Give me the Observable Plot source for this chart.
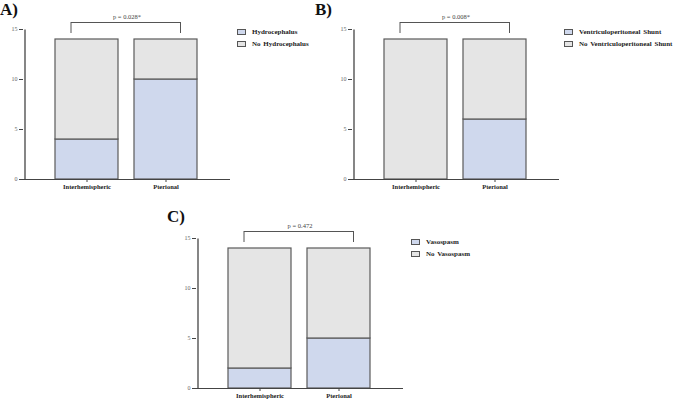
<!DOCTYPE html>
<html>
<head>
<meta charset="utf-8">
<script src="https://cdn.jsdelivr.net/npm/d3@7"></script>
<script src="https://cdn.jsdelivr.net/npm/@observablehq/plot@0.6"></script>
<style>
  html, body { margin: 0; padding: 0; background: #fff; }
  #root { position: relative; width: 676px; height: 400px; overflow: hidden; background: #fff; font-family: "Liberation Serif", "DejaVu Serif", serif; }
  .panel { position: absolute; }
  .plabel { position: absolute; font-weight: bold; font-size: 17px; line-height: 1; color: #111; }
  .legend { position: absolute; font-weight: bold; font-size: 7px; color: #222; }
  .legend .row { display: flex; align-items: center; height: 12px; white-space: nowrap; word-spacing: 1px; }
  .legend .sw { width: 7px; height: 4px; border: 1px solid #555; margin-right: 6px; box-sizing: content-box; }
</style>
</head>
<body>
<div id="root"></div>
<script>
// ---- data ----
const categories = ["Interhemispheric", "Pterional"];
const yTicks = [0, 5, 10, 15];

const seriesA = ["Hydrocephalus", "No Hydrocephalus"];
const hydrocephalus = [4, 10];
const noHydrocephalus = [10, 4];

const seriesB = ["Ventriculoperitoneal Shunt", "No Ventriculoperitoneal Shunt"];
const vpShunt = [0, 6];
const noVpShunt = [14, 8];

const seriesC = ["Vasospasm", "No Vasospasm"];
const vasospasm = [2, 5];
const noVasospasm = [12, 9];

const pValues = ["p = 0.028*", "p = 0.008*", "p = 0.472"];
const panelLabels = ["A)", "B)", "C)"];

// ---- style ----
const blue = "#cfd8ed";
const gray = "#e5e5e5";
const strokeC = "#5a5a5a";
const axisC = "#444";
const bracketC = "#555";

function makePanel(cfg) {
  const root = document.getElementById("root");
  const rows = [];
  categories.forEach((c, i) => {
    rows.push({cat: c, group: cfg.series[0], value: cfg.a[i]});
    rows.push({cat: c, group: cfg.series[1], value: cfg.b[i]});
  });
  const bracket = [{x1: categories[0], x2: categories[1], y: 15.7}];
  const yAxisLine = [{x: categories[0], y1: 0, y2: 15}];
  const chart = Plot.plot({
    width: 236,
    height: cfg.height,
    marginLeft: 23,
    marginRight: 6,
    marginTop: 29,
    marginBottom: cfg.marginBottom,
    style: {fontFamily: "Liberation Serif", background: "transparent", overflow: "visible", color: "#555"},
    x: {domain: categories, paddingInner: 0.2, paddingOuter: 0.4, label: null, tickSize: 3, tickPadding: 2},
    y: {domain: [0, 15], ticks: yTicks, label: null, tickSize: 4, tickPadding: 2},
    color: {domain: cfg.series, range: [blue, gray]},
    marks: [
      Plot.barY(rows, {x: "cat", y: "value", fill: "group", stroke: strokeC, strokeWidth: 1.2}),
      Plot.ruleY([0], {stroke: axisC, strokeWidth: 1.2}),
      // y axis line, just inside the frame's left edge
      Plot.link(yAxisLine, {x1: "x", x2: "x", y1: "y1", y2: "y2", dx: -62, stroke: axisC, strokeWidth: 1.3}),
      // significance bracket
      Plot.link(bracket, {x1: "x1", x2: "x2", y1: "y", y2: "y", dx: -16, stroke: bracketC}),
      Plot.link(bracket, {x1: "x1", x2: "x2", y1: "y", y2: "y", dx: 14.5, stroke: bracketC}),
      Plot.ruleX([categories[0]], {y1: 14.6, y2: 15.7, dx: -16, stroke: bracketC}),
      Plot.ruleX([categories[1]], {y1: 14.6, y2: 15.7, dx: 14.5, stroke: bracketC}),
      Plot.text([cfg.p], {y: 16.25, text: d => d, fontSize: 6.5, fill: "#444", lineAnchor: "middle"})
    ]
  });
  const s = d3.select(chart);
  s.selectAll('g[aria-label="x-axis tick label"]').attr("font-size", 6.5).attr("font-weight", "bold").attr("fill", "#222");
  s.selectAll('g[aria-label="y-axis tick label"]').attr("font-size", 6).attr("fill", "#666");
  s.selectAll('g[aria-label="x-axis tick"], g[aria-label="y-axis tick"]').attr("stroke", axisC);
  const wrap = document.createElement("div");
  wrap.className = "panel";
  wrap.style.left = cfg.left + "px";
  wrap.style.top = cfg.top + "px";
  wrap.appendChild(chart);
  root.appendChild(wrap);

  const lab = document.createElement("div");
  lab.className = "plabel";
  lab.textContent = cfg.label;
  lab.style.left = cfg.labelPos[0] + "px";
  lab.style.top = cfg.labelPos[1] + "px";
  root.appendChild(lab);

  const leg = document.createElement("div");
  leg.className = "legend";
  leg.style.left = cfg.legendPos[0] + "px";
  leg.style.top = cfg.legendPos[1] + "px";
  cfg.series.forEach((name, i) => {
    const r = document.createElement("div");
    r.className = "row";
    const sw = document.createElement("span");
    sw.className = "sw";
    sw.style.background = i === 0 ? blue : gray;
    const t = document.createElement("span");
    t.textContent = name;
    r.appendChild(sw);
    r.appendChild(t);
    leg.appendChild(r);
  });
  root.appendChild(leg);
}

makePanel({left: 0, top: 0, height: 200, marginBottom: 21, series: seriesA, a: hydrocephalus, b: noHydrocephalus,
  p: pValues[0], label: panelLabels[0], labelPos: [0, 1], legendPos: [237, 26]});
makePanel({left: 329, top: 0, height: 200, marginBottom: 21, series: seriesB, a: vpShunt, b: noVpShunt,
  p: pValues[1], label: panelLabels[1], labelPos: [315, 1], legendPos: [564, 26]});
makePanel({left: 173, top: 209, height: 191, marginBottom: 12, series: seriesC, a: vasospasm, b: noVasospasm,
  p: pValues[2], label: panelLabels[2], labelPos: [167, 208], legendPos: [411, 236]});
</script>
</body>
</html>
